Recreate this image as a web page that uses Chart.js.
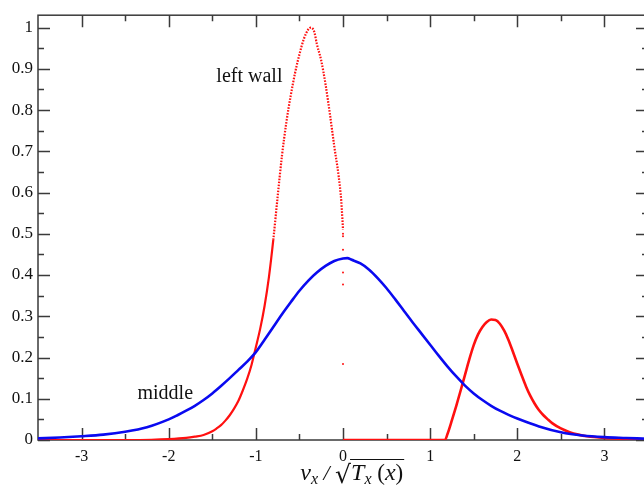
<!DOCTYPE html>
<html><head><meta charset="utf-8">
<script src="https://cdn.jsdelivr.net/npm/chart.js@4/dist/chart.umd.min.js"></script>
<style>
html,body{margin:0;padding:0;overflow:hidden;background:#fff;width:644px;height:487px}
#wrap{position:absolute;left:0;top:0;width:652px;height:487px}
</style>
</head><body><div id="wrap"><canvas id="c" width="652" height="487"></canvas></div>
<script>
// ---- data ----
const redLeftX = [-3.5,-2.5,-2.2,-2.0,-1.8,-1.7,-1.6,-1.5,-1.45,-1.4,-1.35,-1.3,-1.25,-1.2,-1.15,-1.1,-1.05,-1.0,-0.95,-0.9,-0.85,-0.8,-0.75,-0.7,-0.65,-0.6,-0.55,-0.5,-0.45,-0.4,-0.37,-0.33,-0.3,-0.25,-0.2,-0.15,-0.1,-0.05,-0.02,0.0];
const redLeftY = [0,0,0.0005,0.002,0.005,0.008,0.012,0.021,0.028,0.036,0.047,0.06,0.076,0.095,0.12,0.148,0.182,0.225,0.27,0.325,0.395,0.485,0.59,0.69,0.77,0.835,0.89,0.935,0.972,0.995,1.0,0.99,0.96,0.92,0.862,0.79,0.712,0.64,0.58,0.51];

const redSpikeX = [0,0,0,0,0,0];
const redSpikeY = [0.5,0.494,0.461,0.406,0.377,0.184];

const redRightX = [0,1.17,1.2,1.25,1.3,1.35,1.4,1.45,1.5,1.55,1.6,1.65,1.7,1.75,1.8,1.85,1.9,1.95,2.0,2.05,2.1,2.15,2.2,2.25,2.3,2.35,2.4,2.5,2.6,2.7,2.8,3.0,3.2,3.5];
const redRightY = [0,0,0.015,0.048,0.083,0.12,0.158,0.196,0.23,0.256,0.274,0.286,0.292,0.291,0.282,0.265,0.242,0.214,0.185,0.157,0.13,0.107,0.088,0.072,0.06,0.05,0.041,0.028,0.019,0.013,0.009,0.005,0.003,0.001];

const blueX = [-3.5,-3.25,-3.0,-2.75,-2.5,-2.25,-2.0,-1.9,-1.8,-1.7,-1.6,-1.5,-1.4,-1.3,-1.2,-1.1,-1.0,-0.9,-0.8,-0.7,-0.6,-0.5,-0.4,-0.3,-0.2,-0.1,0,0.05,0.1,0.2,0.3,0.4,0.5,0.6,0.7,0.8,0.9,1.0,1.1,1.2,1.3,1.4,1.5,1.6,1.7,1.8,1.9,2.0,2.25,2.5,2.75,3.0,3.25,3.5];
const blueY = [0.004,0.006,0.009,0.013,0.02,0.031,0.05,0.06,0.071,0.083,0.097,0.113,0.131,0.15,0.17,0.19,0.213,0.243,0.274,0.305,0.334,0.362,0.386,0.406,0.422,0.434,0.44,0.441,0.437,0.428,0.413,0.392,0.368,0.341,0.313,0.285,0.258,0.231,0.204,0.178,0.154,0.132,0.113,0.097,0.083,0.071,0.061,0.052,0.033,0.019,0.011,0.007,0.005,0.003];

const xTickValues = [-3,-2,-1,0,1,2,3];
const xTickLabels = ['-3','-2','-1','0','1','2','3'];
const xMinorValues = [-2.5,-1.5,-0.5,0.5,1.5,2.5];
const yTickValues = [0,0.1,0.2,0.3,0.4,0.5,0.6,0.7,0.8,0.9,1];
const yTickLabels = ['0','0.1','0.2','0.3','0.4','0.5','0.6','0.7','0.8','0.9','1'];
const yMinorValues = [0.05,0.15,0.25,0.35,0.45,0.55,0.65,0.75,0.85,0.95];

const annotations = [
  {text:'left wall', x:-1.074, y:0.867},
  {text:'middle', x:-2.04, y:0.099}
];

const pts = (xs, ys) => xs.map((x,i)=>({x:x, y:ys[i]}));
const SERIF = '"Liberation Serif", "Times New Roman", serif';
const AXIS = '#3a3a3a';

const framePlugin = {
  id:'frame',
  beforeDatasetsDraw(chart){
    const {ctx, chartArea:a, scales:{x, y}} = chart;
    ctx.save();
    ctx.strokeStyle = AXIS;
    ctx.lineWidth = 1.5;
    ctx.strokeRect(a.left, a.top, a.right-a.left, a.bottom-a.top);
    const MAJ = 12, MIN = 6;
    ctx.beginPath();
    const xt = (v, L) => { const p = Math.round(x.getPixelForValue(v))+0.5;
      ctx.moveTo(p, a.bottom); ctx.lineTo(p, a.bottom-L);
      ctx.moveTo(p, a.top); ctx.lineTo(p, a.top+L); };
    const yt = (v, L) => { const p = Math.round(y.getPixelForValue(v))+0.5;
      ctx.moveTo(a.left, p); ctx.lineTo(a.left+L, p);
      ctx.moveTo(a.right, p); ctx.lineTo(a.right-L, p); };
    xTickValues.forEach(v=>xt(v,MAJ));
    xMinorValues.forEach(v=>xt(v,MIN));
    yTickValues.forEach(v=>yt(v,MAJ));
    yMinorValues.forEach(v=>yt(v,MIN));
    ctx.stroke();
    ctx.restore();
  },
  afterDraw(chart){
    const {ctx, chartArea:a, scales:{x, y}} = chart;
    ctx.save();
    ctx.fillStyle = '#111';
    ctx.font = '20px ' + SERIF;
    ctx.textAlign = 'center';
    ctx.textBaseline = 'alphabetic';
    annotations.forEach(an => ctx.fillText(an.text, x.getPixelForValue(an.x), y.getPixelForValue(an.y)));
    // axis title: v_x / sqrt(T_x (x))
    const parts = [
      {t:'v', f:'italic 24px '+SERIF, dy:0},
      {t:'x', f:'italic 16px '+SERIF, dy:4},
      {t:' / ', f:'italic 22px '+SERIF, dy:0},
      {t:'\u221A', f:'25px "DejaVu Serif"', dy:3, root:true},
      {t:'T', f:'italic 24px '+SERIF, dy:0},
      {t:'x', f:'italic 16px '+SERIF, dy:4},
      {t:' (', f:'23px '+SERIF, dy:0},
      {t:'x', f:'italic 24px '+SERIF, dy:0},
      {t:')', f:'23px '+SERIF, dy:0}
    ];
    ctx.textAlign = 'left';
    let total = 0;
    parts.forEach(p => { ctx.font = p.f; p.w = ctx.measureText(p.t).width; total += p.w; });
    const cx = x.getPixelForValue(0.1);
    const base = chart.height - 7;
    let px = cx - total/2;
    let rootEnd = null;
    parts.forEach(p => {
      ctx.font = p.f;
      ctx.fillText(p.t, px, base + p.dy);
      px += p.w;
      if (p.root) rootEnd = px - 1;
    });
    ctx.strokeStyle = '#111';
    ctx.lineWidth = 1.2;
    ctx.beginPath();
    ctx.moveTo(rootEnd, base - 20.5);
    ctx.lineTo(px + 1, base - 20.5);
    ctx.stroke();
    ctx.restore();
  }
};

new Chart(document.getElementById('c'), {
  type:'scatter',
  data:{ datasets:[
    { label:'middle', data:pts(blueX, blueY), showLine:true, borderColor:'#0a0af0', backgroundColor:'#0a0af0',
      borderWidth:2.6, pointRadius:0, cubicInterpolationMode:'monotone' },
    { label:'left wall', data:pts(redLeftX, redLeftY), showLine:true, borderColor:'#ff1010', backgroundColor:'#ff1010',
      borderWidth:2.2, pointRadius:0, cubicInterpolationMode:'monotone',
      segment:{ borderDash: c => (c.p0.parsed.y > 0.45 && c.p1.parsed.y > 0.45) ? [1.6,1.4] : undefined } },
    { label:'left wall spike', data:pts(redSpikeX, redSpikeY), showLine:false, borderColor:'#ff1010', backgroundColor:'#ff1010',
      pointRadius:1, pointBorderWidth:0 },
    { label:'left wall right', data:pts(redRightX, redRightY), showLine:true, borderColor:'#ff1010', backgroundColor:'#ff1010',
      borderWidth:2.6, pointRadius:0, cubicInterpolationMode:'monotone' }
  ]},
  options:{
    responsive:false, animation:false, events:[],
    layout:{ padding:{ top:13, right:3, left:0, bottom:0 } },
    plugins:{ legend:{display:false}, tooltip:{enabled:false}, title:{display:false} },
    scales:{
      x:{ type:'linear', min:-3.5, max:3.5,
        afterBuildTicks: s => { s.ticks = xTickValues.map(v=>({value:v})); },
        afterFit: s => { s.height = 47; },
        grid:{ display:false, drawTicks:false }, border:{ display:false },
        ticks:{ padding:7, color:'#111', font:{ family:SERIF, size:16 },
          callback: v => { const i = xTickValues.indexOf(v); return i>=0 ? xTickLabels[i] : ''; } } },
      y:{ type:'linear', min:0, max:1.03,
        afterBuildTicks: s => { s.ticks = yTickValues.map(v=>({value:v})); },
        afterFit: s => { s.width = 38; },
        grid:{ display:false, drawTicks:false }, border:{ display:false },
        ticks:{ padding:5, color:'#111', font:{ family:SERIF, size:17 },
          callback: v => { const i = yTickValues.findIndex(t=>Math.abs(t-v)<1e-9); return i>=0 ? yTickLabels[i] : ''; } } }
    }
  },
  plugins:[framePlugin]
});
</script>
</body></html>
